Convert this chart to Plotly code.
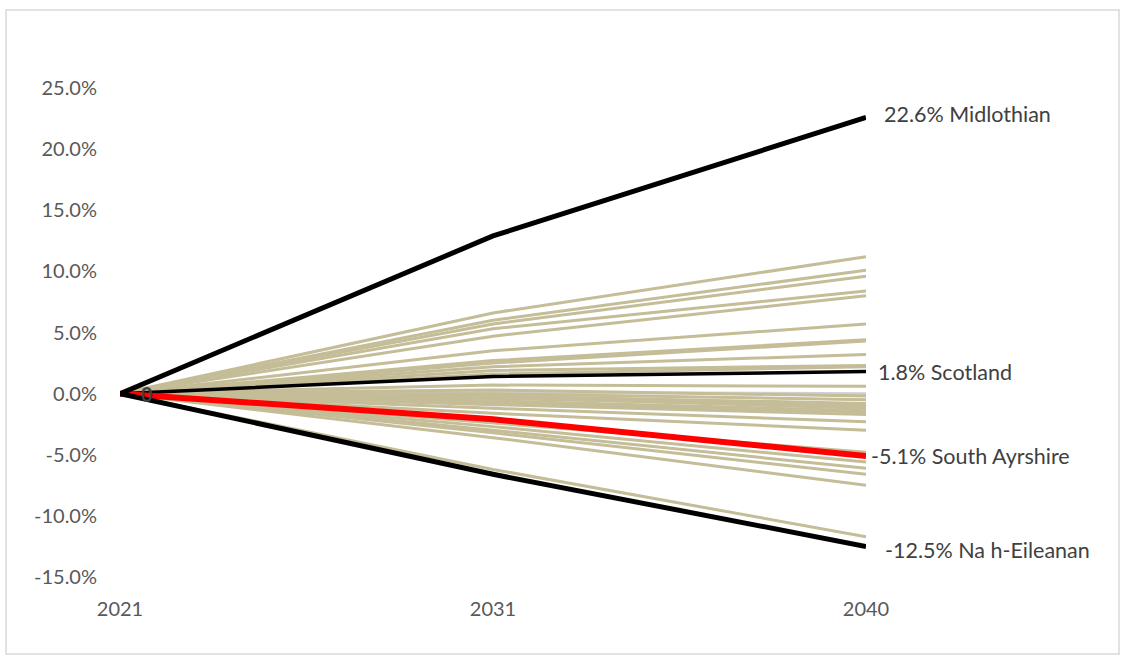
import plotly.graph_objects as go

years = ["2021", "2031", "2040"]

# Other councils (% change from 2021)
others_2031 = [6.6, 6.0, 5.7, 5.3, 4.7, 3.5, 2.7, 2.5, 2.2, 1.9, 1.6, 0.7, 0.1, 0.3, 0.0,
               -0.2, -0.4, -0.3, -0.6, -0.8, -0.9, -1.2, -1.6, -2.4, -2.7, -3.0, -3.2, -3.6, -6.2]
others_2040 = [11.2, 10.1, 9.6, 8.4, 8.0, 5.7, 4.4, 4.3, 3.2, 2.3, 2.2, 0.6, 0.0, -0.2, -0.5,
               -0.8, -1.0, -1.2, -1.4, -1.5, -1.7, -2.3, -3.0, -4.8, -5.6, -6.1, -6.6, -7.5, -11.7]
grey_index = 12  # one series drawn in light grey

highlight_names = ["Scotland", "South Ayrshire", "Midlothian", "Na h-Eileanan"]
highlight_2031 = [1.4, -2.1, 12.9, -6.6]
highlight_2040 = [1.8, -5.1, 22.6, -12.5]
highlight_colors = ["#000000", "#FF0000", "#000000", "#000000"]
highlight_widths = [3.5, 6, 5, 5]

tick_vals = [-15, -10, -5, 0, 5, 10, 15, 20, 25]
tick_text = ["-15.0%", "-10.0%", "-5.0%", "0.0%", "5.0%", "10.0%", "15.0%", "20.0%", "25.0%"]

FONT = "Lato, Calibri, Carlito, sans-serif"
FS = 20

fig = go.Figure()

for i, (a, b) in enumerate(zip(others_2031, others_2040)):
    fig.add_trace(go.Scatter(
        x=years, y=[0, a, b], mode="lines",
        line=dict(color="#D0CECE" if i == grey_index else "#C4BD97", width=3),
        showlegend=False, hoverinfo="skip"))

for name, a, b, c, w in zip(highlight_names, highlight_2031, highlight_2040,
                            highlight_colors, highlight_widths):
    fig.add_trace(go.Scatter(
        x=years, y=[0, a, b], mode="lines", name=name,
        line=dict(color=c, width=w), showlegend=False))

last_idx = len(years) - 1
label_shift = {"Scotland": (10, 0), "South Ayrshire": (3, 0),
               "Midlothian": (16, 3), "Na h-Eileanan": (17, -4)}
annotations = []
for name, b in zip(highlight_names, highlight_2040):
    dx, dy = label_shift[name]
    annotations.append(dict(
        x=last_idx, y=b, xref="x", yref="y", text=f"{b:.1f}% {name}",
        showarrow=False, xanchor="left", yanchor="middle", xshift=dx, yshift=dy,
        font=dict(family=FONT, size=21.5, color="#404040")))

annotations.append(dict(
    x=0, y=0, xref="x", yref="y", text="<b>0</b>", showarrow=False,
    xanchor="center", yanchor="middle", xshift=27, yshift=0,
    font=dict(family=FONT, size=FS, color="#404040")))

fig.update_layout(
    width=1125, height=660,
    margin=dict(l=120, r=259, t=88, b=83),
    paper_bgcolor="white", plot_bgcolor="white",
    annotations=annotations,
    shapes=[dict(type="rect", xref="paper", yref="paper",
                 x0=(6 - 120) / 746, x1=(1119 - 120) / 746,
                 y0=(577 - 654) / 489, y1=(577 - 10) / 489,
                 line=dict(color="#D9D9D9", width=1.5), layer="below")],
    xaxis=dict(type="category", range=[0, 2], showgrid=False, zeroline=False,
               showline=False, ticks="", ticklabelstandoff=18,
               tickfont=dict(family=FONT, size=FS, color="#595959")),
    yaxis=dict(range=[-15, 25], showgrid=False, zeroline=False, showline=False,
               tickvals=tick_vals, ticktext=tick_text, ticks="", ticklabelstandoff=22,
               tickfont=dict(family=FONT, size=FS, color="#595959")),
)

fig.write_html("out.html", config={"displayModeBar": False},
               post_script="document.body.style.margin='0';document.body.style.padding='0';")
